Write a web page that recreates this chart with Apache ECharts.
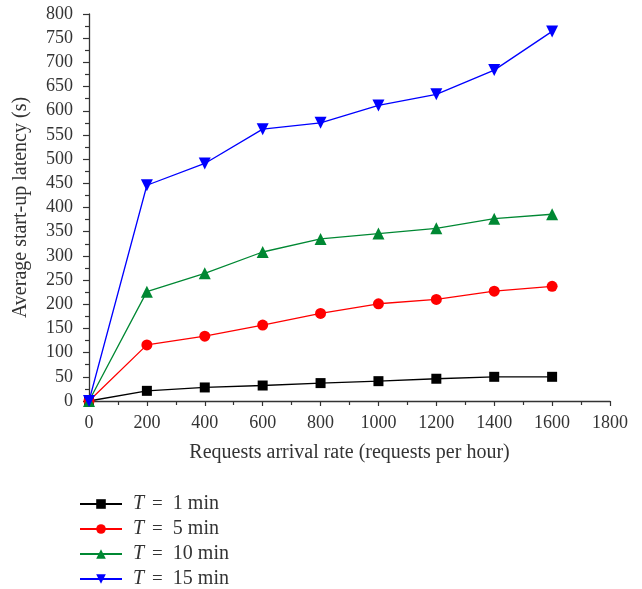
<!DOCTYPE html>
<html>
<head>
<meta charset="utf-8">
<script src="https://cdn.jsdelivr.net/npm/echarts@6/dist/echarts.min.js"></script>
<style>
  html, body { margin: 0; padding: 0; background: #fff; }
  #chart { width: 642px; height: 589px; }
</style>
</head>
<body>
<div id="chart"></div>
<script>
// Arrival rates (requests per hour)
const rates = [0, 200, 400, 600, 800, 1000, 1200, 1400, 1600];

// Average start-up latency (s) for each reservation period T
const latencyT1 = [0, 21, 28, 32, 37, 41, 46, 50, 50];
const latencyT5 = [0, 116, 134, 157, 181, 201, 210, 227, 237];
const latencyT10 = [0, 226, 264, 308, 335, 346, 357, 377, 386];
const latencyT15 = [0, 446, 491, 562, 575, 611, 634, 684, 764];

const seriesNames = ['T = 1 min', 'T = 5 min', 'T = 10 min', 'T = 15 min'];
const seriesColors = ['#000000', '#ff0000', '#008833', '#0000ff'];
const seriesSymbols = ['rect', 'circle', 'triangle', 'path://M0,0 L10,0 L5,9 Z'];
const symbolSizes = [10, 11, 12, 12];
const seriesValues = [latencyT1, latencyT5, latencyT10, latencyT15];

const FONT = '"Liberation Serif", "DejaVu Serif", serif';
const TEXT = '#333333';

const chart = echarts.init(document.getElementById('chart'), null, { renderer: 'canvas' });

const series = seriesNames.map((name, i) => ({
  name: name,
  type: 'line',
  data: rates.map((r, j) => [r, seriesValues[i][j]]),
  symbol: seriesSymbols[i],
  symbolSize: symbolSizes[i],
  showAllSymbol: true,
  lineStyle: { color: seriesColors[i], width: 1.3 },
  itemStyle: { color: seriesColors[i] },
  z: 2 + i,
  animation: false
}));

chart.setOption({
  animation: false,
  backgroundColor: '#ffffff',
  grid: { left: 89, right: 32, top: 14, bottom: 188, containLabel: false },
  xAxis: {
    type: 'value',
    min: 0, max: 1800, interval: 200,
    name: 'Requests arrival rate (requests per hour)',
    nameLocation: 'middle',
    nameGap: 42,
    nameTextStyle: { fontFamily: FONT, fontSize: 20, color: TEXT },
    axisLine: { show: true, lineStyle: { color: '#333', width: 1.3 } },
    axisTick: { show: true, length: 5, inside: false, lineStyle: { color: '#333', width: 1.2 } },
    minorTick: { show: true, splitNumber: 2, length: 4, lineStyle: { color: '#333', width: 1.2 } },
    axisLabel: { fontFamily: FONT, fontSize: 18, color: TEXT, margin: 13, formatter: v => String(v) },
    splitLine: { show: false }
  },
  yAxis: {
    type: 'value',
    min: 0, max: 800, interval: 50,
    name: 'Average start-up latency (s)',
    nameLocation: 'middle',
    nameGap: 58,
    nameRotate: 90,
    nameTextStyle: { fontFamily: FONT, fontSize: 20, color: TEXT },
    axisLine: { show: true, lineStyle: { color: '#333', width: 1.3 } },
    axisTick: { show: true, length: 6, inside: false, lineStyle: { color: '#333', width: 1.2 } },
    minorTick: { show: true, splitNumber: 2, length: 4, lineStyle: { color: '#333', width: 1.2 } },
    axisLabel: { fontFamily: FONT, fontSize: 18, color: TEXT, margin: 16, formatter: v => String(v) },
    splitLine: { show: false }
  },
  legend: {
    orient: 'vertical',
    left: 79,
    top: 494,
    padding: 0,
    height: 100,
    itemWidth: 42,
    itemHeight: 12,
    itemGap: 5,
    data: seriesNames,
    formatter: function (name) {
      const rest = name.split('= ')[1];
      return '{i|T}{e|=}{r|' + rest + '}';
    },
    textStyle: {
      fontFamily: FONT, fontSize: 19, color: TEXT,
      rich: {
        i: { fontFamily: FONT, fontSize: 20, fontStyle: 'italic', color: TEXT, padding: [0, 0, 0, 6], lineHeight: 20 },
        e: { fontFamily: FONT, fontSize: 19, color: TEXT, padding: [0, 10, 0, 8], lineHeight: 20 },
        r: { fontFamily: FONT, fontSize: 20, color: TEXT, lineHeight: 20 }
      }
    }
  },
  series: series
});
</script>
</body>
</html>
